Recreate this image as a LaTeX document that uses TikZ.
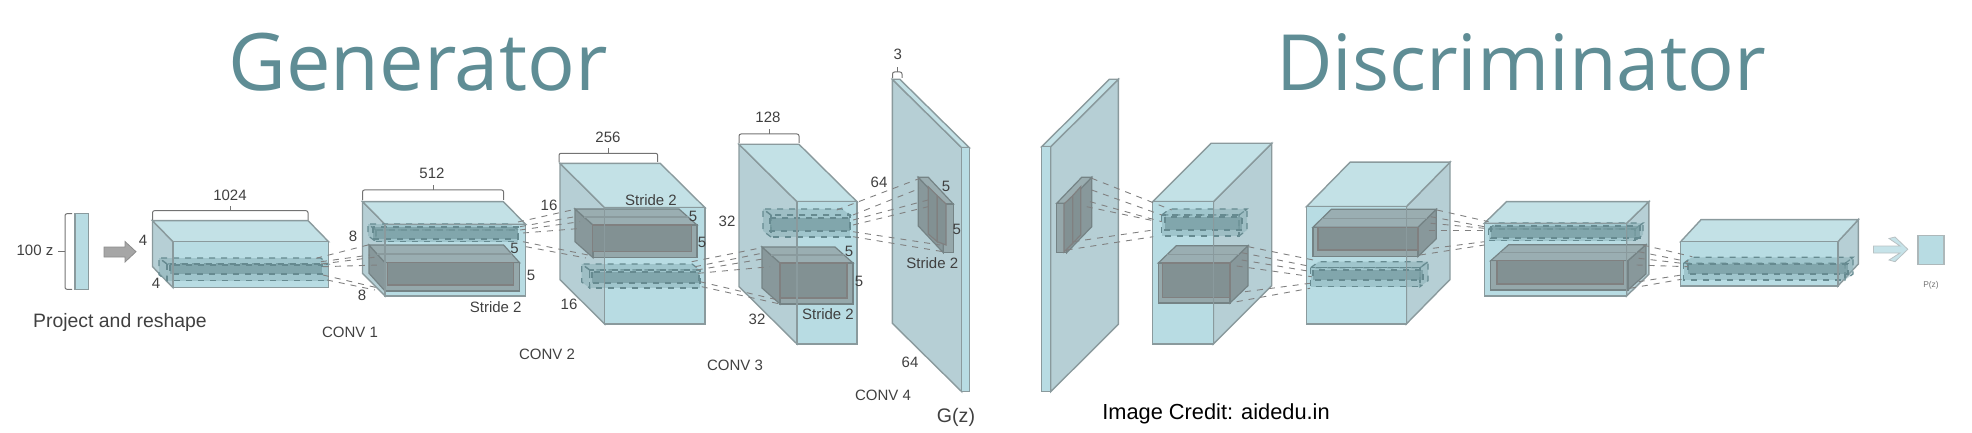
\documentclass[tikz,border=0pt]{standalone}
\usepackage{fontspec}
\setmainfont{Liberation Sans}
\newfontfamily\titlefont{Open Sans}
\usetikzlibrary{positioning}

\definecolor{netfront}{HTML}{B8DCE3}
\definecolor{nettop}{HTML}{C3E1E6}
\definecolor{netside}{HTML}{B6CFD5}
\definecolor{netedge}{HTML}{8A9A9D}
\definecolor{titleteal}{HTML}{5F8D95}
\definecolor{filtergrey}{HTML}{92A3A6}
\definecolor{coregrey}{HTML}{829193}
\definecolor{kernelteal}{HTML}{82ABB1}
\definecolor{kerneldash}{HTML}{668A90}

\tikzset{
	x=0.5pt,y=-0.5pt,
	net front/.style={draw=netedge,line width=.7pt,fill=netfront},
	net top/.style={draw=netedge,line width=.7pt,fill=nettop},
	net side/.style={draw=netedge,line width=.7pt,fill=netside},
	net edge/.style={draw=netedge,line width=.7pt},
	filter front/.style={draw=netedge!85!black,line width=.6pt,fill=filtergrey,fill opacity=.9},
	filter top/.style={draw=netedge!85!black,line width=.6pt,fill=filtergrey!85!netside,fill opacity=.9},
	filter side/.style={draw=netedge!85!black,line width=.6pt,fill=filtergrey!90!black,fill opacity=.9},
	filter core/.style={draw=black!50,line width=.6pt,fill=coregrey},
	kernel front/.style={draw=kerneldash,dashed,line width=.6pt,fill=kernelteal,fill opacity=.45},
	kernel top/.style={draw=kerneldash,dashed,line width=.6pt,fill=kernelteal,fill opacity=.45},
	kernel side/.style={draw=kerneldash,dashed,line width=.6pt,fill=kernelteal,fill opacity=.45},
	kernel core/.style={draw=kerneldash,dashed,line width=.7pt,fill=kernelteal!90!black,fill opacity=.7},
	link/.style={draw=black!50,dashed,line width=.45pt},
	bracket/.style={draw=black!55,line width=.5pt,rounded corners=1pt},
	lbl/.style={font=\fontsize{7.5}{9}\selectfont,text=black!75,inner sep=0pt},
	heading/.style={font=\titlefont\fontsize{39.7}{48}\selectfont,text=titleteal,inner sep=0pt},
}

% style, front box x0 y0 x1 y1, depth dx dy
\newcommand{\cuboid}[7]{%
	\pgfmathsetmacro{\sidex}{#6<0 ? #2 : #4}
	\draw[#1 side] (\sidex,#3) -- (\sidex+#6,#3+#7) -- (\sidex+#6,#5+#7) -- (\sidex,#5) -- cycle;
	\draw[#1 top] (#2,#3) -- (#2+#6,#3+#7) -- (#4+#6,#3+#7) -- (#4,#3) -- cycle;
	\draw[#1 front] (#2,#3) rectangle (#4,#5);
}
% top bracket over a volume, x0 x1 ytop ybottom
\newcommand{\topbracket}[4]{%
	\draw[bracket] (#1,#4) -- (#1,#3) -- (#2,#3) -- (#2,#4);
	\draw[bracket] ({(#1+#2)/2},#3) -- ({(#1+#2)/2},#3-5);
}

\begin{document}
\begin{tikzpicture}
	\useasboundingbox (0,0) rectangle (1972,433);

	\node[heading] (generator) at (418,62) {Generator};
	\node[heading,font=\titlefont\fontsize{38.8}{48}\selectfont] (discriminator) at (1521,62) {Discriminator};

	% Input vector
	\draw[net front] (75,213.7) rectangle (88.6,289.3);
	\draw[bracket] (72,213.7) -- (65,213.7) -- (65,289.3) -- (72,289.3);
	\draw[bracket] (58,251) -- (65,251);
	\draw[draw=black!45,fill=black!35,line width=.4pt] (104,247) -- (125,247) -- (125,241.5) -- (136,251.7) -- (125,262) -- (125,257) -- (104,257) -- cycle;

	% Draw generator volumes
	\cuboid{net}{173}{241.7}{328.6}{287.7}{-20.5}{-21}
	\cuboid{kernel}{167}{264}{328.6}{280.7}{-8}{-6}
	\draw[kernel core] (170,265) rectangle (322,274);
	\draw[net edge] (173,241.7) rectangle (328.6,287.7);

	\cuboid{net}{385}{224.3}{525.7}{296}{-22.5}{-22.7}
	\cuboid{kernel}{376}{230}{518}{241.7}{-8}{-6}
	\draw[kernel core] (373,227) rectangle (518,239);
	\cuboid{filter}{385}{262.7}{519.6}{291}{-16}{-17.7}
	\draw[filter core] (387.5,262.7) rectangle (513.6,285);
	\draw[net edge] (377,253.8) -- (511.6,253.8);
	\draw[net edge] (385,224.3) rectangle (525.7,296);

	\cuboid{net}{604.7}{207.7}{705}{324}{-44.7}{-44.3}
	\cuboid{filter}{593}{225}{697}{257.7}{-18}{-16}
	\draw[filter core] (592.7,225) rectangle (691.7,251.7);
	\draw[net edge] (584,217) -- (688,217);
	\cuboid{kernel}{589.7}{270}{700}{288}{-8}{-6}
	\draw[kernel core] (592,272) rectangle (699,283);
	\draw[net edge] (604.7,207.7) rectangle (705,324);

	\cuboid{net}{797}{201.7}{857}{344}{-58}{-57.4}
	\cuboid{kernel}{771}{215}{850}{237}{-8}{-6}
	\draw[kernel core] (770,218) rectangle (850,231);
	\cuboid{filter}{780}{263}{853}{304}{-18}{-16}
	\draw[filter core] (780,263) rectangle (847,298);
	\draw[net edge] (771,255) -- (844,255);
	\draw[net edge] (797,201.7) rectangle (857,344);

	\cuboid{net}{961.7}{147.7}{969.3}{391.7}{-69.4}{-68.4}
	\cuboid{filter}{943.3}{204}{953.3}{252.7}{-25}{-26.7}
	\draw[filter core] (928.3,186.7) -- (937.3,195.7) -- (937.3,241.7) -- (928.3,234) -- cycle;
	\draw[filter core] (937.3,195.7) -- (946,204) -- (946,245) -- (937.3,241.7) -- cycle;

	% Draw discriminator volumes
	\cuboid{net}{1041.7}{146.7}{1050.7}{391.7}{67.7}{-67.4}
	\cuboid{filter}{1056.7}{203.3}{1066.7}{252.7}{25}{-26}
	\draw[filter core] (1064,204) -- (1072.7,195.7) -- (1072.7,243.3) -- (1064,252) -- cycle;
	\draw[filter core] (1072.7,195.7) -- (1080.7,186.7) -- (1080.7,235) -- (1072.7,243.3) -- cycle;

	\cuboid{net}{1152.7}{201.7}{1213.3}{344}{58.4}{-58.4}
	\cuboid{kernel}{1161.7}{215}{1239}{236}{8}{-6}
	\draw[kernel core] (1165,217) rectangle (1242,230);
	\cuboid{filter}{1158.3}{263}{1230}{303}{18}{-17.3}
	\draw[filter core] (1162.3,263) rectangle (1230,297.7);
	\draw[net edge] (1167,254.3) -- (1239,254.3);
	\draw[net edge] (1152.7,201.7) rectangle (1213.3,344);

	\cuboid{net}{1306.4}{206.7}{1406.3}{324}{43.7}{-44.5}
	\cuboid{filter}{1312.9}{227.3}{1417.9}{256.7}{18.4}{-18}
	\draw[filter core] (1318,227.3) rectangle (1417.9,250);
	\draw[net edge] (1322,218.3) -- (1427,218.3);
	\cuboid{kernel}{1310.7}{267.7}{1420}{286.7}{8}{-6}
	\draw[kernel core] (1313,270) rectangle (1423,280);
	\draw[net edge] (1306.4,206.7) rectangle (1406.3,324);

	\cuboid{net}{1484.3}{223.3}{1626.6}{296}{22.3}{-21.7}
	\cuboid{kernel}{1488.6}{229}{1635}{240.7}{8}{-6}
	\draw[kernel core] (1491,226) rectangle (1640,238);
	\cuboid{filter}{1490.7}{260.7}{1627.9}{290}{18}{-16}
	\draw[filter core] (1497,260.7) rectangle (1623.6,284);
	\draw[net edge] (1500,252.7) -- (1637,252.7);
	\draw[net edge] (1484.3,223.3) rectangle (1626.6,296);

	\cuboid{net}{1680.6}{241.7}{1837.9}{286}{20.4}{-22}
	\cuboid{kernel}{1683.6}{263.3}{1845}{280}{8}{-6}
	\draw[kernel core] (1688,264) rectangle (1848,274);
	\draw[net edge] (1680.6,241.7) rectangle (1837.9,286);

	% Draw dashed "receptive field" lines
	\foreach \xa/\ya/\xb/\yb in {
		316/258.3/368/245, 321/261.7/370/255, 321/264/378.6/256.7, 323/266.7/378.6/265, 323/275/377/287.7, 327/280/375/290,
		518/222/575/209.3, 520/226.7/575/216.7, 520/230/580/221.7, 523/233/582/228.3, 523/241.7/588/255, 526/246.7/586/258,
		691.7/261.7/761.7/247.7, 695/266.7/761.7/253.3, 696.7/270/766.7/258.3, 698/273.3/770/266.7, 700/281.7/778/300, 701.7/286.7/780/304,
		836.7/210/920/178.3, 853/215/920/188.3, 853/220/928/200, 853/225/928/206.7, 853/231.7/940/245, 853/236.7/943/251.7,
		1091.7/178.3/1171.7/210, 1091.7/190/1161.7/215, 1090/201.7/1161.7/221.7, 1086.7/206.7/1153.3/220.7, 1073.3/241.7/1153.3/230, 1066.7/250/1153.3/236.7,
		1248.3/246.7/1313.3/260, 1241.7/252.7/1311.7/266.7, 1241.7/260/1311.7/271.7, 1236.7/266/1311.7/276.7, 1245/291.7/1310/283.3, 1236.7/301.7/1310/288.3,
		1437/210/1488.6/221.7, 1430.7/216.7/1484.3/226.7, 1430.7/223.3/1484.3/228.3, 1428.6/230/1484.3/230, 1432.9/248.3/1484.3/241.7, 1420/255/1484.3/245,
		1642.9/245/1692.2/256.7, 1638.6/251.7/1687.9/261.7, 1638.6/258.3/1687.9/264, 1636.5/265/1687.9/266.7, 1638.6/281.7/1681.5/275, 1630/288.3/1681.5/279.3}
		\draw[link] (\xa,\ya) -- (\xb,\yb);

	% Output
	\draw[draw=netedge!60,fill=netfront!80,line width=.4pt] (1873.5,246) -- (1900,246) -- (1889,238.5) -- (1895,237) -- (1907.8,249.3) -- (1895,261.7) -- (1889,260) -- (1900,253) -- (1873.5,253) -- cycle;
	\draw[net front,draw=netedge!70] (1918,235.7) rectangle (1943.8,264.3);

	% Draw brackets
	\topbracket{152.5}{308}{210.7}{220}
	\topbracket{362.5}{503.6}{190}{200}
	\topbracket{559}{657.7}{153.3}{162}
	\topbracket{739}{799}{134}{143}
	\draw[bracket] (892.5,78) -- (892.5,72) -- (902,72) -- (902,78);
	\draw[bracket] (897.2,72) -- (897.2,67);

	% Labels
	\node[lbl] (zsize) at (35,250.7) {100 z};
	\node[lbl] (size1024) at (230,195) {1024};
	\node[lbl] (depth4a) at (143,240.7) {4};
	\node[lbl] (depth4b) at (156,283.3) {4};
	\node[lbl,font=\fontsize{9.7}{11}\selectfont] (project) at (120,322.3) {Project and reshape};
	\node[lbl] (conv1) at (350,332.7) {CONV 1};
	\node[lbl] (size512) at (432,173) {512};
	\node[lbl] (depth8a) at (353,236.7) {8};
	\node[lbl] (depth8b) at (362,295.7) {8};
	\node[lbl] (stridea) at (495.7,307.3) {Stride 2};
	\node[lbl] (kernela) at (514.6,248.3) {5};
	\node[lbl] (kernelb) at (531,275) {5};
	\node[lbl] (depth16a) at (549,205.7) {16};
	\node[lbl] (depth16b) at (569,304) {16};
	\node[lbl] (size256) at (608,137) {256};
	\node[lbl] (strideb) at (651,200) {Stride 2};
	\node[lbl] (kernelc) at (693,216) {5};
	\node[lbl] (kerneld) at (702,242) {5};
	\node[lbl] (conv2) at (547,354) {CONV 2};
	\node[lbl] (size128) at (768,117) {128};
	\node[lbl] (depth32a) at (727,221) {32};
	\node[lbl] (depth32b) at (757,319) {32};
	\node[lbl] (stridec) at (828,314) {Stride 2};
	\node[lbl] (kernele) at (849,251) {5};
	\node[lbl] (kernelf) at (859,281) {5};
	\node[lbl] (conv3) at (735,365) {CONV 3};
	\node[lbl] (size3) at (897.7,54) {3};
	\node[lbl] (depth64a) at (879,182.3) {64};
	\node[lbl] (depth64b) at (910,362.7) {64};
	\node[lbl] (kernelg) at (946,186) {5};
	\node[lbl] (kernelh) at (956.7,229) {5};
	\node[lbl] (strided) at (932.3,263.3) {Stride 2};
	\node[lbl] (conv4) at (883,395) {CONV 4};
	\node[lbl,font=\fontsize{9.8}{11}\selectfont] (gz) at (956,417) {G(z)};
	\node[lbl,text=black,font=\fontsize{10.9}{12}\selectfont] (credit) at (1216,414) {Image Credit: aidedu.in};
	\node[lbl,text=black!55,font=\fontsize{4.2}{5}\selectfont] (pz) at (1931,285) {P(z)};
\end{tikzpicture}
\end{document}
